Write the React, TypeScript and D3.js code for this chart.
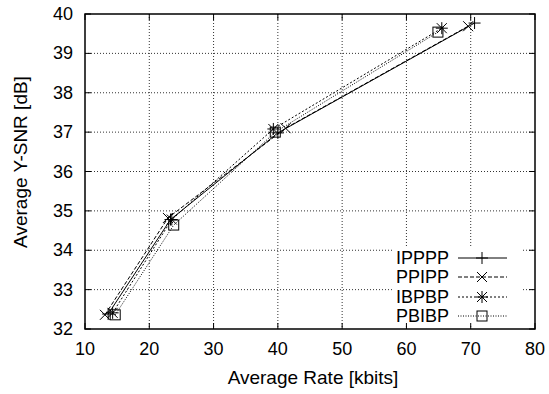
import React from "react";
import * as d3 from "d3";

const seriesNames = ["IPPPP", "PPIPP", "IBPBP", "PBIBP"];
const ipppp: [number, number][] = [[13.6, 32.38], [23.3, 34.78], [40.0, 36.98], [70.6, 39.77]];
const ppipp: [number, number][] = [[13.1, 32.36], [22.9, 34.82], [41.2, 37.1], [69.6, 39.69]];
const ibpbp: [number, number][] = [[14.3, 32.41], [23.5, 34.78], [39.3, 37.08], [65.5, 39.64]];
const pbibp: [number, number][] = [[14.7, 32.36], [23.8, 34.64], [39.6, 37.0], [64.9, 39.54]];
const xTicks = [10, 20, 30, 40, 50, 60, 70, 80];
const yTicks = [32, 33, 34, 35, 36, 37, 38, 39, 40];

const W = 549, H = 394;
const L = 85, R = 535, T = 14, B = 329;
const FONT = "'Liberation Sans', Arial, sans-serif";
const FS = 18;

const dashes = [null, "4,2", "2,2", "1,1.5"];
const markers = ["plus", "cross", "star", "square"];

function Marker({ type, x, y }: { type: string; x: number; y: number }) {
  const s = 6;
  const c = 5;
  const common = { stroke: "#000", strokeWidth: 1, fill: "none" };
  if (type === "plus")
    return <path d={`M${x - s},${y}H${x + s}M${x},${y - s}V${y + s}`} {...common} />;
  if (type === "cross")
    return <path d={`M${x - c},${y - c}L${x + c},${y + c}M${x - c},${y + c}L${x + c},${y - c}`} {...common} />;
  if (type === "star")
    return (
      <path
        d={`M${x - s},${y}H${x + s}M${x},${y - s}V${y + s}M${x - c},${y - c}L${x + c},${y + c}M${x - c},${y + c}L${x + c},${y - c}`}
        {...common}
      />
    );
  return <rect x={x - c} y={y - c} width={2 * c} height={2 * c} {...common} />;
}

export default function App() {
  const x = d3.scaleLinear().domain([10, 80]).range([L, R]);
  const y = d3.scaleLinear().domain([32, 40]).range([B, T]);
  const data = [ipppp, ppipp, ibpbp, pbibp];
  const line = d3.line<[number, number]>().x((d) => x(d[0])).y((d) => y(d[1]));
  const legendY = [258, 277, 297, 316];
  const tick = 6;

  return (
    <svg width={W} height={H} style={{ position: "absolute", left: 0, top: 0, background: "#fff" }}>
      <rect width={W} height={H} fill="#fff" />
      {/* grid */}
      {xTicks.slice(1, -1).map((t) => (
        <line key={"gx" + t} x1={x(t)} x2={x(t)} y1={T} y2={B} stroke="#333" strokeWidth={1} strokeDasharray="1,2" />
      ))}
      {yTicks.slice(1, -1).map((t) => (
        <line key={"gy" + t} x1={L} x2={R} y1={y(t)} y2={y(t)} stroke="#333" strokeWidth={1} strokeDasharray="1,2" />
      ))}
      {/* legend background masks grid */}
      <rect x={392} y={246} width={131} height={80} fill="#fff" />
      {/* ticks */}
      {xTicks.map((t) => (
        <g key={"tx" + t}>
          <line x1={x(t)} x2={x(t)} y1={B} y2={B - tick} stroke="#000" />
          <line x1={x(t)} x2={x(t)} y1={T} y2={T + tick} stroke="#000" />
          <text x={x(t)} y={B + 26} textAnchor="middle" fontFamily={FONT} fontSize={FS}>
            {t}
          </text>
        </g>
      ))}
      {yTicks.map((t) => (
        <g key={"ty" + t}>
          <line x1={L} x2={L + tick} y1={y(t)} y2={y(t)} stroke="#000" />
          <line x1={R} x2={R - tick} y1={y(t)} y2={y(t)} stroke="#000" />
          <text x={L - 12} y={y(t) + 6} textAnchor="end" fontFamily={FONT} fontSize={FS}>
            {t}
          </text>
        </g>
      ))}
      {/* series */}
      {data.map((d, i) => (
        <g key={"s" + i}>
          <path d={line(d) || ""} fill="none" stroke="#000" strokeWidth={1} strokeDasharray={dashes[i] || undefined} />
          {d.map((p, j) => (
            <Marker key={j} type={markers[i]} x={x(p[0])} y={y(p[1])} />
          ))}
        </g>
      ))}
      {/* legend */}
      {seriesNames.map((n, i) => (
        <g key={"lg" + n}>
          <text x={449} y={legendY[i] + 6} textAnchor="end" fontFamily={FONT} fontSize={FS}>
            {n}
          </text>
          <line x1={458} x2={507} y1={legendY[i]} y2={legendY[i]} stroke="#000" strokeDasharray={dashes[i] || undefined} />
          <Marker type={markers[i]} x={482} y={legendY[i]} />
        </g>
      ))}
      {/* border */}
      <rect x={L} y={T} width={R - L} height={B - T} fill="none" stroke="#000" strokeWidth={1.5} />
      {/* axis labels */}
      <text x={(L + R) / 2 + 3} y={384} textAnchor="middle" fontFamily={FONT} fontSize={19}>
        Average Rate [kbits]
      </text>
      <text
        transform={`translate(27,162) rotate(-90)`}
        textAnchor="middle"
        fontFamily={FONT}
        fontSize={19}
      >
        Average Y-SNR [dB]
      </text>
    </svg>
  );
}
